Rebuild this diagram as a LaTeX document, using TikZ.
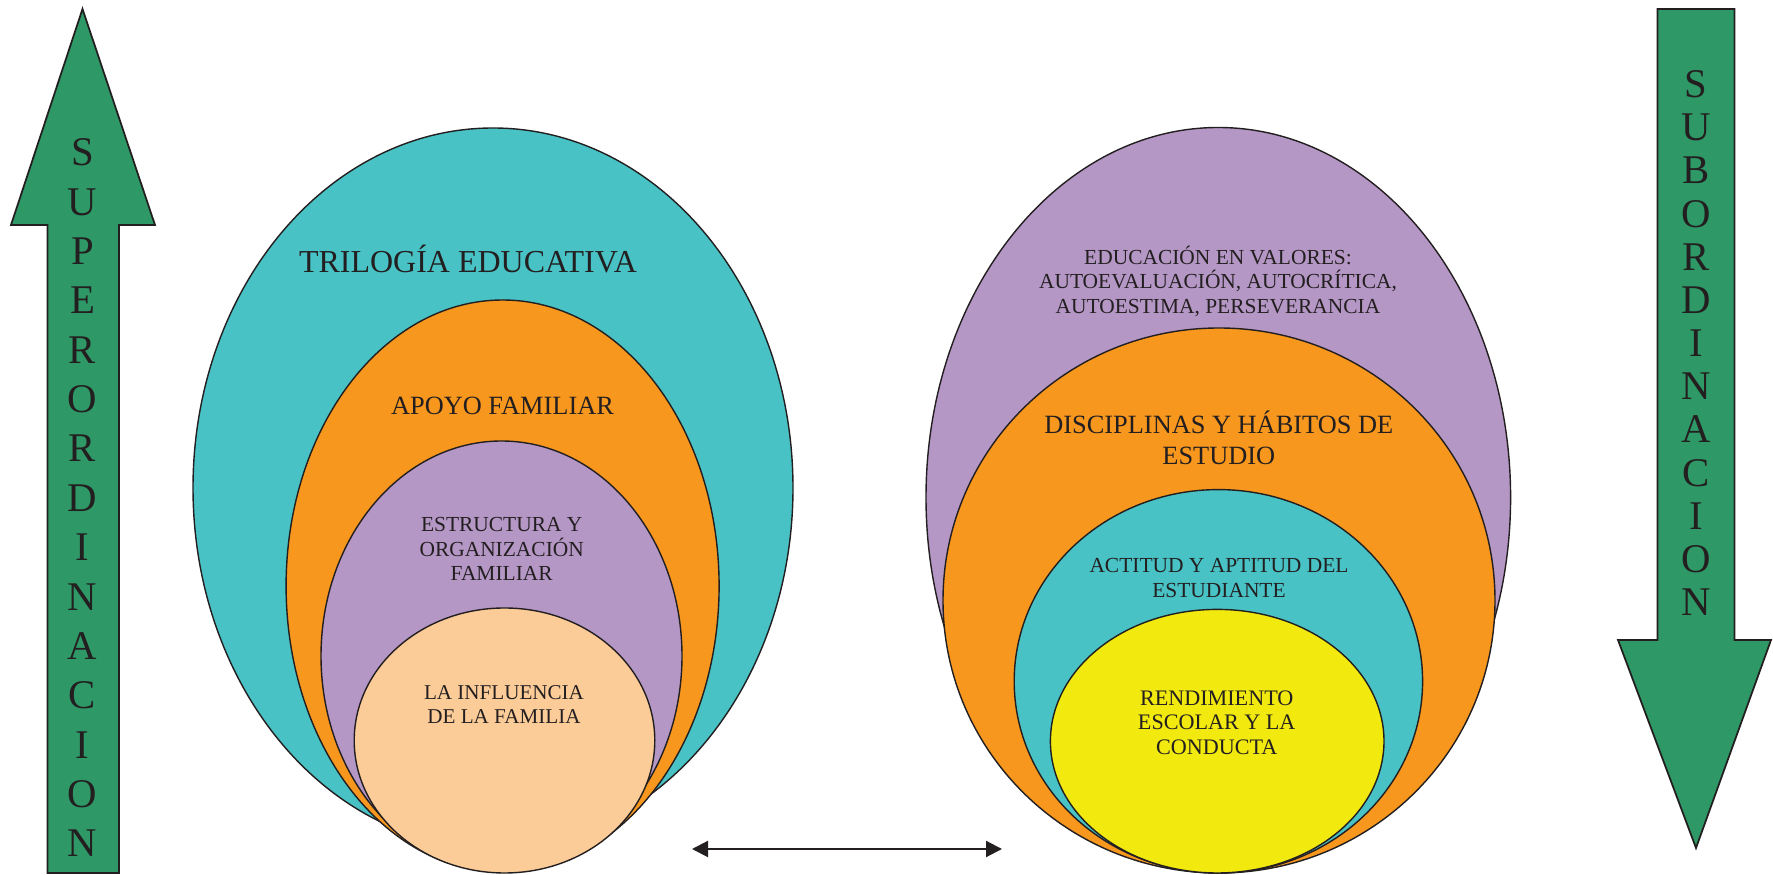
\documentclass[tikz,border=0pt]{standalone}
\usepackage{fontspec}
\setmainfont{Liberation Serif}
\usetikzlibrary{arrows.meta}
\definecolor{cteal}{RGB}{72,194,197}
\definecolor{corange}{RGB}{247,151,30}
\definecolor{cpurple}{RGB}{181,151,198}
\definecolor{cpeach}{RGB}{251,203,152}
\definecolor{cyellow}{RGB}{242,233,15}
\definecolor{cgreen}{RGB}{46,153,102}
\definecolor{ctext}{RGB}{35,31,32}
\newcommand{\fs}[2]{\fontsize{#1}{#2}\selectfont}
\begin{document}
\begin{tikzpicture}[x=0.1mm,y=-0.1mm,
    ring/.style={draw=ctext,line width=0.4pt},
    bigarrow/.style={draw=ctext,line width=0.5pt,fill=cgreen},
    lbl/.style={align=center,text=ctext,inner sep=0pt,anchor=base}]
    \useasboundingbox (0,0) rectangle (1773,875);
    %flecha superordinacion
    \filldraw[bigarrow](82.5,9)--(155,225)--(119,225)--(119,873)--(47.5,873)--(47.5,225)--(11,225)--cycle;
    \node[lbl,font=\fs{11.6}{14.05}] (superlbl) at (82.5,857) {S\\U\\P\\E\\R\\O\\R\\D\\I\\N\\A\\C\\I\\O\\N};
    %flecha subordinacion
    \filldraw[bigarrow](1657.6,9)--(1734.5,9)--(1734.5,640)--(1771,640)--(1696,848)--(1618,640)--(1657.6,640)--cycle;
    \node[lbl,font=\fs{11.6}{12.28}] (sublbl) at (1696,615.5) {S\\U\\B\\O\\R\\D\\I\\N\\A\\C\\I\\O\\N};
    %elipses izquierda
    \filldraw[ring,fill=cteal](493,488) ellipse [x radius=30mm,y radius=36mm];
    \filldraw[ring,fill=corange](502.6,586) ellipse [x radius=21.65mm,y radius=28.6mm];
    \filldraw[ring,fill=cpurple](501.5,656) ellipse [x radius=18.05mm,y radius=21.5mm];
    \filldraw[ring,fill=cpeach](504.5,740.5) ellipse [x radius=15.03mm,y radius=13.25mm];
    %elipses derecha
    \filldraw[ring,fill=cpurple](1218.3,497.5) ellipse [x radius=29.23mm,y radius=37mm];
    \filldraw[ring,fill=corange](1219,600.5) ellipse [x radius=27.6mm,y radius=27.25mm];
    \filldraw[ring,fill=cteal](1218.4,681.3) ellipse [x radius=20.42mm,y radius=19.17mm];
    \filldraw[ring,fill=cyellow](1217.2,741.2) ellipse [x radius=16.68mm,y radius=13.18mm];
    %textos izquierda
    \node[lbl,font=\fs{9.1}{11}] (trilogia) at (468,272.3) {TRILOGÍA EDUCATIVA};
    \node[lbl,font=\fs{7.5}{9}] (apoyo) at (502.5,414.3) {APOYO FAMILIAR};
    \node[lbl,font=\fs{6.1}{6.94}] (estructura) at (501.7,580.7) {ESTRUCTURA Y\\ORGANIZACIÓN\\FAMILIAR};
    \node[lbl,font=\fs{6.0}{6.9}] (influencia) at (504,723.3) {LA INFLUENCIA\\DE LA FAMILIA};
    %textos derecha
    \node[lbl,font=\fs{6.1}{6.97}] (valores) at (1218,313.3) {EDUCACIÓN EN VALORES:\\AUTOEVALUACIÓN, AUTOCRÍTICA,\\AUTOESTIMA, PERSEVERANCIA};
    \node[lbl,font=\fs{7.5}{8.82}] (disciplinas) at (1218.8,465) {DISCIPLINAS Y HÁBITOS DE\\ESTUDIO};
    \node[lbl,font=\fs{6.1}{7.2}] (actitud) at (1219,597.7) {ACTITUD Y APTITUD DEL\\ESTUDIANTE};
    \node[lbl,font=\fs{6.3}{7.0}] (rendimiento) at (1216.7,754.3) {RENDIMIENTO\\ESCOLAR Y LA\\CONDUCTA};
    %flecha doble
    \coordinate (linkL) at (692,849);
    \coordinate (linkR) at (1002,849);
    \draw[{Triangle[length=1.6mm,width=1.6mm]}-{Triangle[length=1.6mm,width=1.6mm]},line width=0.6pt,ctext] (linkL)--(linkR);
\end{tikzpicture}
\end{document}
